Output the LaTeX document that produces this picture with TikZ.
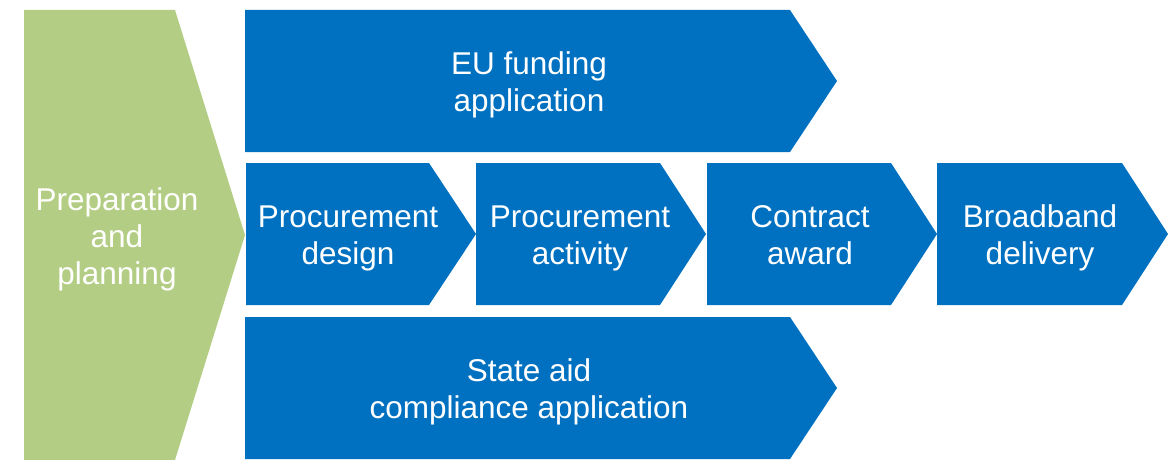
\documentclass[tikz,border=0pt]{standalone}
\usepackage{fontspec}
\setmainfont{Liberation Sans}
\definecolor{stepblue}{RGB}{0,112,192}
\definecolor{prepgreen}{RGB}{179,206,132}
\begin{document}
\begin{tikzpicture}[x=1pt,y=-1pt,
  lbl/.style={text=white,align=center,inner sep=0pt,font=\fontsize{31.5}{37}\selectfont},
  bluefill/.style={fill=stepblue},
  greenfill/.style={fill=prepgreen}]
\useasboundingbox[fill=white] (0,0) rectangle (1170,460);
% green chevron
\fill[greenfill] (24,10) -- (175,10) -- (245,235) -- (175,460) -- (24,460) -- cycle;
% top arrow
\fill[bluefill] (245,10) -- (790,10) -- (837,81) -- (790,152) -- (245,152) -- cycle;
% middle row
\fill[bluefill] (246,163) -- (429,163) -- (476,234) -- (429,305) -- (246,305) -- cycle;
\fill[bluefill] (476,163) -- (660,163) -- (706,234) -- (660,305) -- (476,305) -- cycle;
\fill[bluefill] (707,163) -- (891,163) -- (937,234) -- (891,305) -- (707,305) -- cycle;
\fill[bluefill] (937,163) -- (1122,163) -- (1168,234) -- (1122,305) -- (937,305) -- cycle;
% bottom arrow
\fill[bluefill] (245,317) -- (790,317) -- (837,388) -- (790,459) -- (245,459) -- cycle;
% labels
\node[lbl] (prep) at (117,236) {Preparation\\and\\\smash{planning}};
\node[lbl] (eu) at (529,82) {EU funding\\\smash{application}};
\node[lbl] (pd) at (348,235) {Procurement\\\smash{design}};
\node[lbl] (pa) at (580,235) {Procurement\\\smash{activity}};
\node[lbl] (ca) at (810,235) {Contract\\award};
\node[lbl] (bd) at (1040,235) {Broadband\\\smash{delivery}};
\node[lbl] (sa) at (529,389) {State aid\\\smash{compliance application}};
\end{tikzpicture}
\end{document}
